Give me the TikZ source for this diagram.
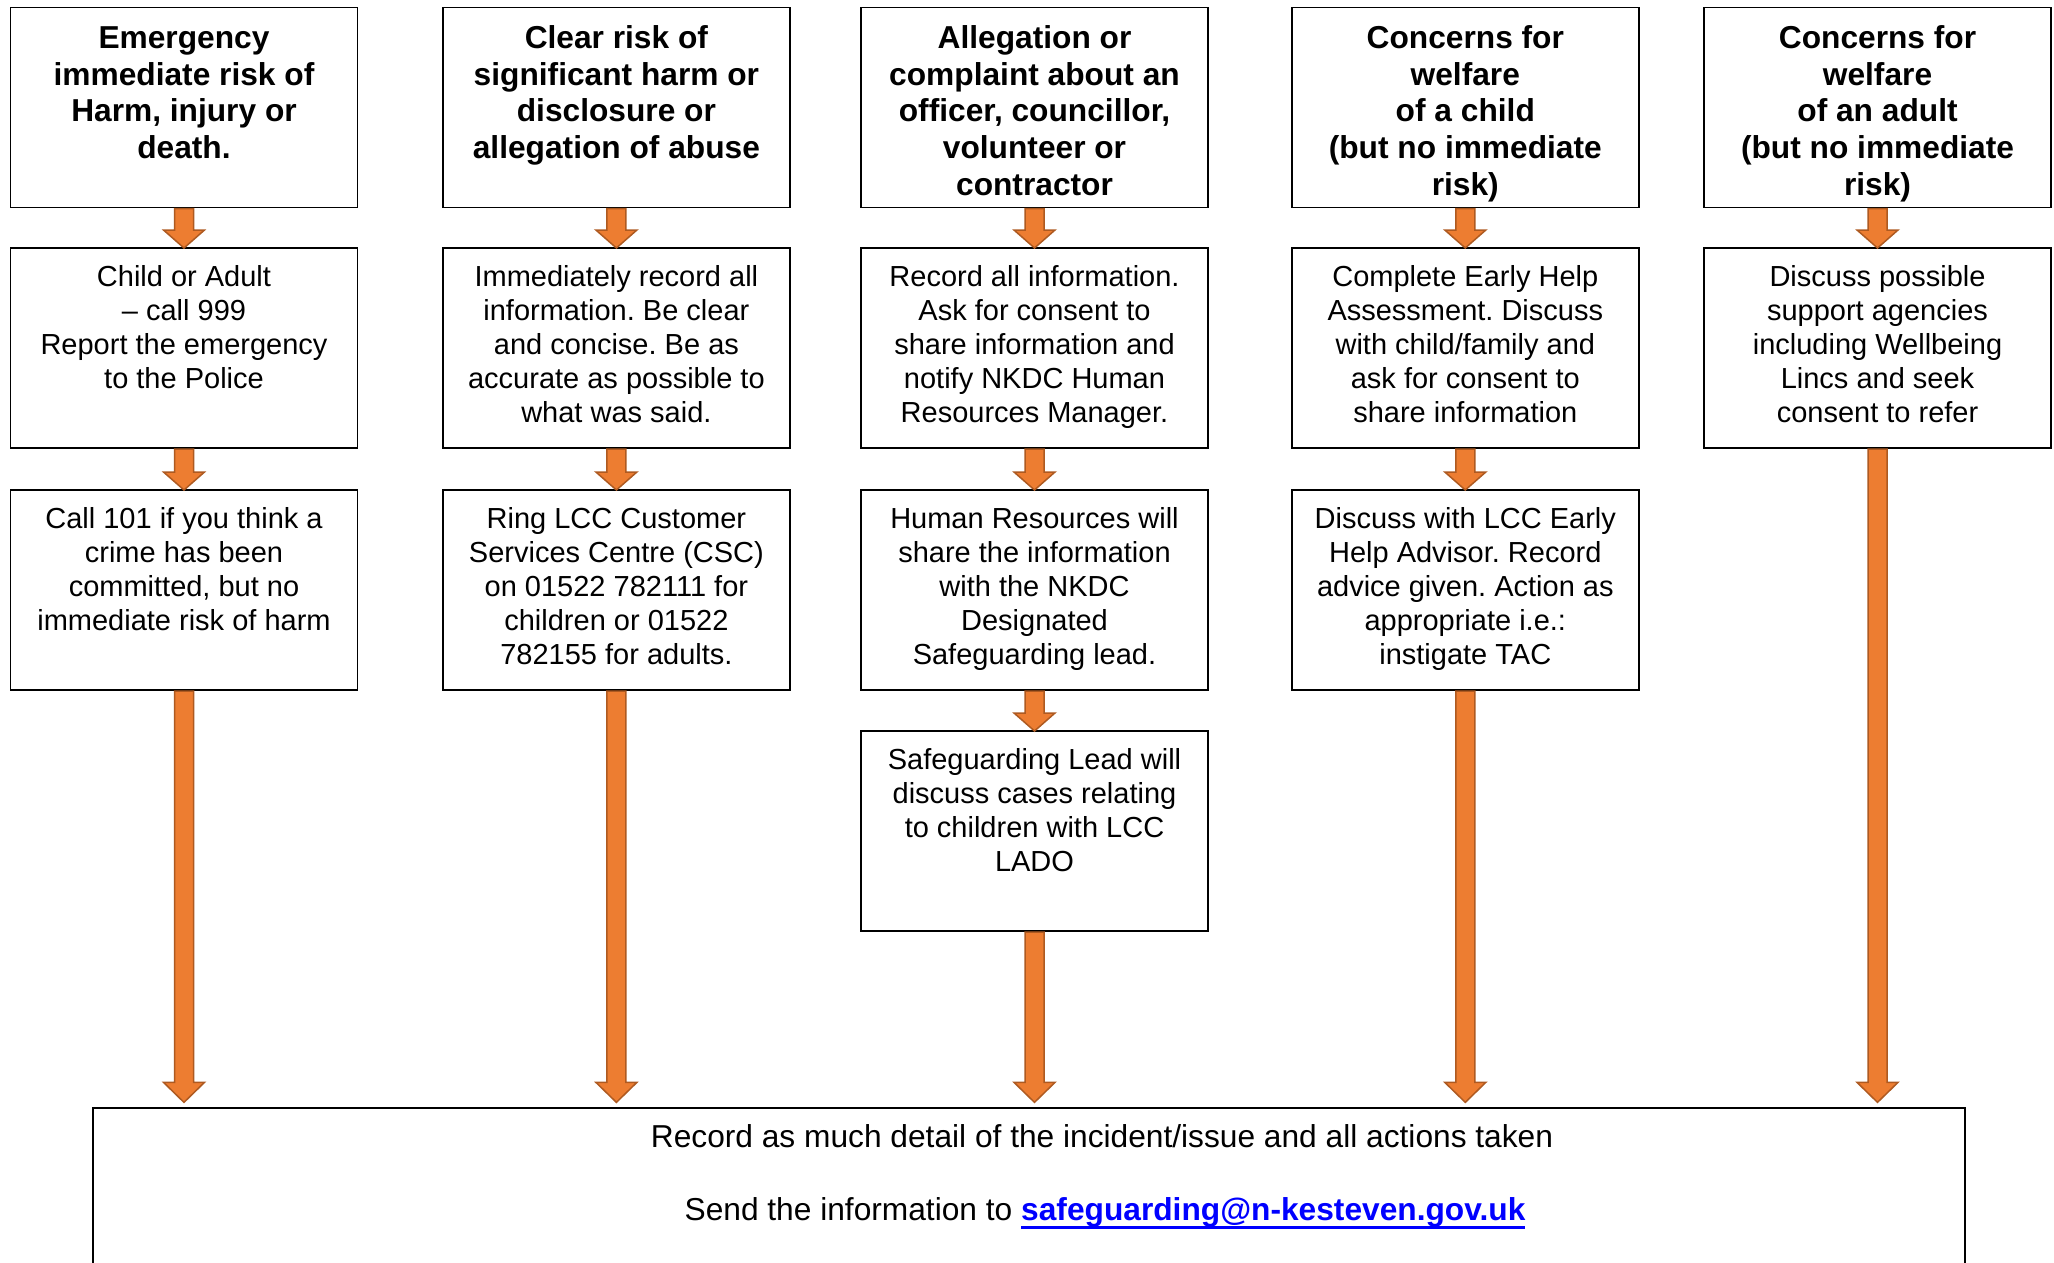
\documentclass[tikz,border=0pt]{standalone}
\usepackage{fontspec}
\setmainfont{Liberation Sans}
\usetikzlibrary{calc}
\definecolor{arrfill}{HTML}{ED7D31}
\definecolor{arrline}{HTML}{AE5A21}
\definecolor{linkblue}{HTML}{0000FF}
\frenchspacing
\newcommand{\flowarrow}[3]{%
  \filldraw[arrowst] ($(#1.south)+(-9.5,1)$) -- ($(#2)+(-9.5,-#3)$) -- ($(#2)+(-20.5,-#3)$) -- (#2) -- ($(#2)+(20.5,-#3)$) -- ($(#2)+(9.5,-#3)$) -- ($(#1.south)+(9.5,1)$) -- cycle;}
\newcommand{\thickul}[1]{\setbox0\hbox{#1}\rlap{\rule[-9pt]{\wd0}{3pt}}\box0}
\tikzset{
  boxbase/.style={draw=black, line width=1.8pt, inner sep=0pt, outer sep=0pt},
  headbox/.style={boxbase, font=\fontsize{31.7}{36.7}\selectfont\bfseries,
    execute at begin node={\frenchspacing\begin{minipage}[c][200pt][t]{347pt}\centering\vspace*{15.3pt}\strut},
    execute at end node={\end{minipage}}},
  bodybox/.style={boxbase, font=\fontsize{29}{34}\selectfont,
    execute at begin node={\frenchspacing\begin{minipage}[c][200pt][t]{347pt}\centering\vspace*{14.2pt}\strut},
    execute at end node={\end{minipage}}},
  arrowst/.style={fill=arrfill, draw=arrline, line width=1.5pt},
  bottombox/.style={draw=black, line width=1.3pt, inner sep=0pt, minimum width=1872pt, minimum height=190pt},
  bottomtext/.style={font=\fontsize{31.7}{36.7}\selectfont, anchor=base, inner sep=0pt},
}
\begin{document}
\begin{tikzpicture}[x=1pt, y=-1pt]
\useasboundingbox (0,0) rectangle (2054,1262);
\clip (0,0) rectangle (2054,1262);
\fill[white] (0,0) rectangle (2054,1262);

% column 1
\node[headbox] (h1) at (184,107.5) {Emergency\\immediate risk of\\Harm, injury or\\death.};
\node[bodybox] (a1) at (184,348) {Child or Adult\\– call 999\\Report the emergency\\to the Police};
\node[bodybox] (b1) at (184,590) {Call 101 if you think a\\crime has been\\committed, but no\\immediate risk of harm};

% column 2
\node[headbox] (h2) at (616.4,107.5) {Clear risk of\\significant harm or\\disclosure or\\allegation of abuse};
\node[bodybox] (a2) at (616.4,348) {Immediately record all\\information. Be clear\\and concise. Be as\\accurate as possible to\\what was said.};
\node[bodybox] (b2) at (616.4,590) {Ring LCC Customer\\Services Centre (CSC)\\on 01522 782111 for\\children or 01522\\782155 for adults.};

% column 3
\node[headbox] (h3) at (1034.5,107.5) {Allegation or\\complaint about an\\officer, councillor,\\volunteer or\\contractor};
\node[bodybox] (a3) at (1034.5,348) {Record all information.\\Ask for consent to\\share information and\\notify NKDC Human\\Resources Manager.};
\node[bodybox] (b3) at (1034.5,590) {Human Resources will\\share the information\\with the NKDC\\Designated\\Safeguarding lead.};
\node[bodybox] (c3) at (1034.5,831) {Safeguarding Lead will\\discuss cases relating\\to children with LCC\\LADO};

% column 4
\node[headbox] (h4) at (1465.3,107.5) {Concerns for\\welfare\\of a child\\(but no immediate\\risk)};
\node[bodybox] (a4) at (1465.3,348) {Complete Early Help\\Assessment. Discuss\\with child/family and\\ask for consent to\\share information};
\node[bodybox] (b4) at (1465.3,590) {Discuss with LCC Early\\Help Advisor. Record\\advice given. Action as\\appropriate i.e.:\\instigate TAC};

% column 5
\node[headbox] (h5) at (1877.5,107.5) {Concerns for\\welfare\\of an adult\\(but no immediate\\risk)};
\node[bodybox] (a5) at (1877.5,348) {Discuss possible\\support agencies\\including Wellbeing\\Lincs and seek\\consent to refer};

% bottom box
\node[bottombox] (bot) at (1029,1203) {};
\node[bottomtext] (rec) at (1102,1147) {Record as much detail of the incident/issue and all actions taken};
\node[bottomtext] (send) at (1105,1220) {Send the information to {\bfseries\color{linkblue}\thickul{safeguarding@n-kesteven.gov.uk}}};

% arrow end points on the bottom box
\coordinate (e1) at ($(b1.south |- bot.north)+(0,-5)$);
\coordinate (e2) at ($(b2.south |- bot.north)+(0,-5)$);
\coordinate (e3) at ($(c3.south |- bot.north)+(0,-5)$);
\coordinate (e4) at ($(b4.south |- bot.north)+(0,-5)$);
\coordinate (e5) at ($(a5.south |- bot.north)+(0,-5)$);

% short arrows
\flowarrow{h1}{a1.north}{18}
\flowarrow{a1}{b1.north}{18}
\flowarrow{h2}{a2.north}{18}
\flowarrow{a2}{b2.north}{18}
\flowarrow{h3}{a3.north}{18}
\flowarrow{a3}{b3.north}{18}
\flowarrow{b3}{c3.north}{18}
\flowarrow{h4}{a4.north}{18}
\flowarrow{a4}{b4.north}{18}
\flowarrow{h5}{a5.north}{18}

% long arrows
\flowarrow{b1}{e1}{20}
\flowarrow{b2}{e2}{20}
\flowarrow{c3}{e3}{20}
\flowarrow{b4}{e4}{20}
\flowarrow{a5}{e5}{20}
\end{tikzpicture}
\end{document}
